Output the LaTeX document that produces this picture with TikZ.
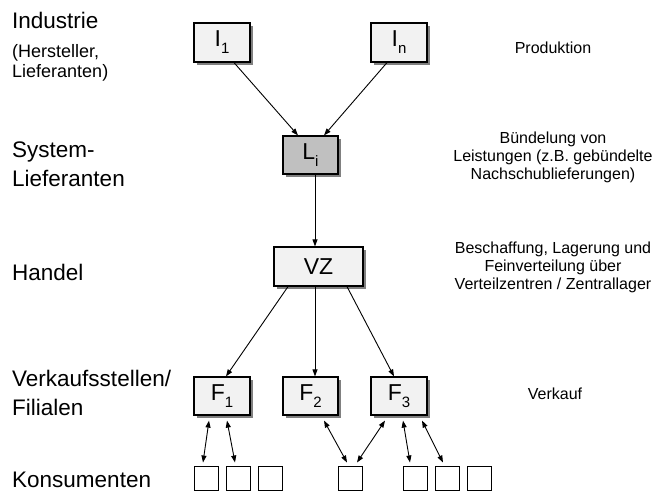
\documentclass[tikz,border=0pt]{standalone}
\usepackage{fontspec}
\setmainfont{Liberation Sans}
\usetikzlibrary{arrows.meta,shadows}

\definecolor{boxfill}{HTML}{F2F2F2}
\definecolor{leadfill}{HTML}{C0C0C0}

\newcommand{\lowidx}[1]{\raisebox{-0.3em}{\fontsize{15}{15}\selectfont #1}}

\tikzset{
  stagebox/.style={draw, line width=1.2pt, fill=boxfill, inner sep=0pt,
    minimum width=56pt, minimum height=39pt, font=\fontsize{23}{26}\selectfont,
    drop shadow={shadow xshift=3pt, shadow yshift=-3pt, fill=black!50, opacity=1}},
  consbox/.style={draw, line width=1pt, minimum size=24pt, inner sep=0pt},
  flow/.style={-{Triangle[length=7pt,width=5pt]}, line width=0.9pt},
  swap/.style={{Triangle[length=7pt,width=5pt]}-{Triangle[length=7pt,width=5pt]}, line width=0.9pt},
  levellabel/.style={anchor=base west, inner sep=0pt, align=left, font=\fontsize{22.5}{28.5}\selectfont},
  notelabel/.style={inner sep=0pt, align=center, font=\fontsize{16}{18}\selectfont}
}

\begin{document}
\begin{tikzpicture}[x=1pt, y=-1pt]
\useasboundingbox (0,0) rectangle (656,491);

% levels on the left (base = last line)
\node[levellabel] (lvlind) at (12,28) {Industrie};
\node[levellabel, font=\fontsize{18}{20}\selectfont] (lvlindsub) at (12,77) {(Hersteller,\\Lieferanten)};
\node[levellabel] (lvlsys) at (12,186) {System-\\Lieferanten};
\node[levellabel] (lvlhan) at (12,280) {Handel};
\node[levellabel] (lvlfil) at (12,415) {Verkaufsstellen/\\Filialen};
\node[levellabel] (lvlkon) at (12,487) {Konsumenten};

% functions on the right
\node[notelabel] (notprod) at (553,48) {Produktion};
\node[notelabel] (notbuen) at (553,157) {Bündelung von\\Leistungen (z.B. gebündelte\\Nachschublieferungen)};
\node[notelabel] (notbes) at (553,267) {Beschaffung, Lagerung und\\Feinverteilung über\\Verteilzentren / Zentrallager};
\node[notelabel] (notverk) at (555,394) {Verkauf};

% boxes
\node[stagebox] (I1) at (222,42.5) {I\lowidx{1}};
\node[stagebox] (In) at (399,42.5) {I\lowidx{n}};
\node[stagebox, fill=leadfill, minimum width=55pt, minimum height=38pt] (Li) at (310.5,155) {L\lowidx{i}};
\node[stagebox, minimum width=89pt] (VZ) at (318.5,266.5) {VZ};
\node[stagebox, minimum height=38pt] (F1) at (222,396) {F\lowidx{1}};
\node[stagebox, minimum width=55pt, minimum height=38pt] (F2) at (310.5,396) {F\lowidx{2}};
\node[stagebox, minimum height=38pt] (F3) at (399,396) {F\lowidx{3}};

% consumers
\foreach \cx [count=\ci] in {206,238,270,350.5,415.5,447.5,479.5}
  \node[consbox] (c\ci) at (\cx,478) {};

% flows
\draw[flow] ([xshift=12pt]I1.south) -- ([xshift=-12.5pt]Li.north);
\draw[flow] ([xshift=-12pt]In.south) -- ([xshift=13.5pt]Li.north);
\draw[flow] ([xshift=4.5pt]Li.south) -- ([xshift=-3.5pt]VZ.north);
\draw[flow] ([xshift=-30.5pt]VZ.south) -- ([xshift=4pt]F1.north);
\draw[flow] ([xshift=-3.5pt]VZ.south) -- ([xshift=4.5pt]F2.north);
\draw[flow] ([xshift=28.5pt]VZ.south) -- ([xshift=-5pt]F3.north);

% exchange with consumers
\draw[swap] ([xshift=-13pt,yshift=-5pt]F1.south) -- ([xshift=-3pt,yshift=3pt]c1.north);
\draw[swap] ([xshift=5pt,yshift=-5pt]F1.south) -- ([xshift=-3pt,yshift=3pt]c2.north);
\draw[swap] ([xshift=13.5pt,yshift=-5pt]F2.south) -- ([xshift=-3.5pt,yshift=3pt]c4.north);
\draw[swap] ([xshift=-14pt,yshift=-5pt]F3.south) -- ([xshift=6.5pt,yshift=3pt]c4.north);
\draw[swap] ([xshift=4pt,yshift=-5pt]F3.south) -- ([xshift=-5.5pt,yshift=3pt]c5.north);
\draw[swap] ([xshift=23pt,yshift=-5pt]F3.south) -- ([xshift=-4.5pt,yshift=3pt]c6.north);
\end{tikzpicture}
\end{document}
